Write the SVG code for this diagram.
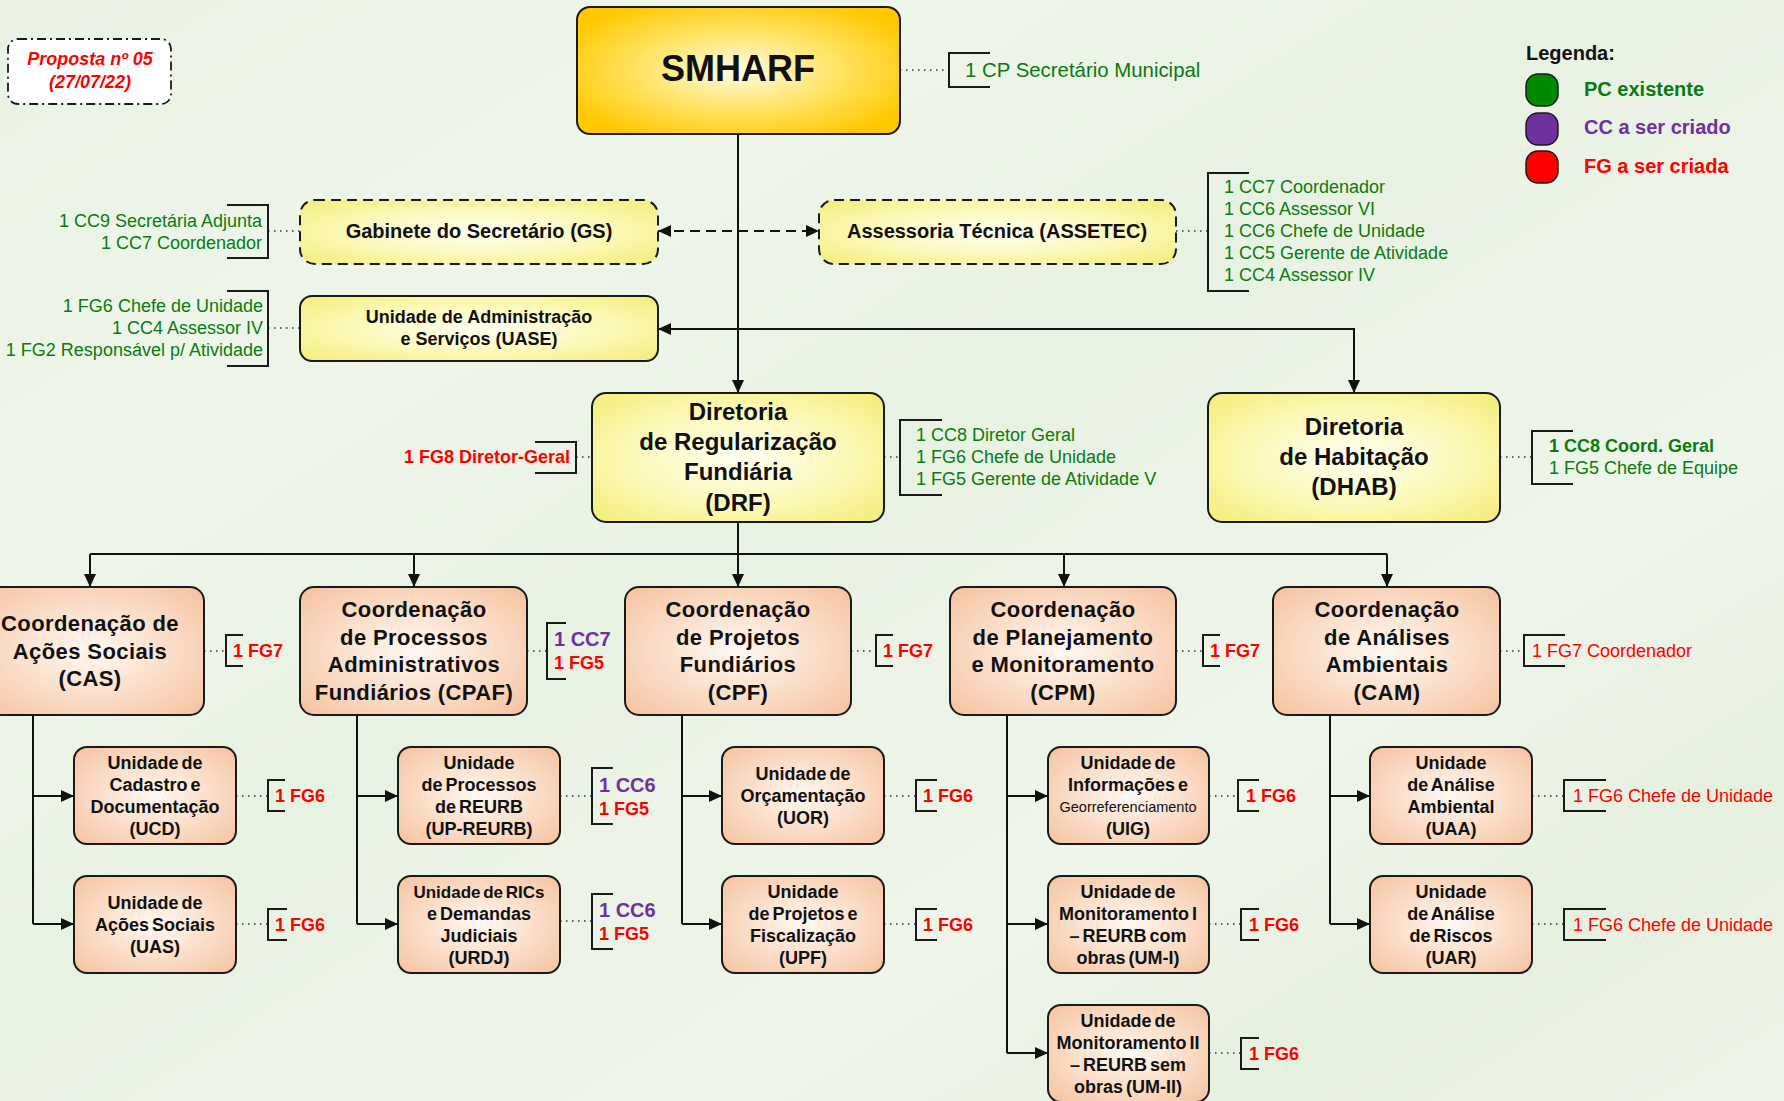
<svg xmlns="http://www.w3.org/2000/svg" width="1784" height="1101" viewBox="0 0 1784 1101">
<defs>
<linearGradient id="bg" x1="0" y1="0" x2="1" y2="1">
<stop offset="0" stop-color="#e9f2e3"/>
<stop offset="0.25" stop-color="#eef6ea"/>
<stop offset="0.45" stop-color="#e8f2e2"/>
<stop offset="0.7" stop-color="#eef5ea"/>
<stop offset="0.85" stop-color="#e6f0df"/>
<stop offset="1" stop-color="#edf4e8"/>
</linearGradient>
<radialGradient id="gSmh" cx="0.5" cy="0.5" r="0.6">
<stop offset="0" stop-color="#fffbe4"/>
<stop offset="0.55" stop-color="#ffe25c"/>
<stop offset="1" stop-color="#ffc800"/>
</radialGradient>
<radialGradient id="gYel" cx="0.5" cy="0.5" r="0.65">
<stop offset="0" stop-color="#fffff2"/>
<stop offset="0.6" stop-color="#fbf8b4"/>
<stop offset="1" stop-color="#f4ef80"/>
</radialGradient>
<radialGradient id="gPea" cx="0.5" cy="0.5" r="0.65">
<stop offset="0" stop-color="#fff8f3"/>
<stop offset="0.6" stop-color="#fadbc4"/>
<stop offset="1" stop-color="#f6c6a4"/>
</radialGradient>
<marker id="ar" markerUnits="userSpaceOnUse" markerWidth="14" markerHeight="12" refX="13" refY="6" orient="auto-start-reverse">
<path d="M0,0 L13,6 L0,12 z" fill="#111"/>
</marker>
<style>
text{font-family:"Liberation Sans",Arial,sans-serif;}
.box{stroke:#1a1a1a;stroke-width:2;}
.yel{fill:url(#gYel);}
.pea{fill:url(#gPea);}
.dash{stroke-dasharray:10 6;}
.bt{font-weight:bold;fill:#111;text-anchor:middle;}
.b20{font-size:20px;}
.b24{font-size:24px;}
.b22{font-size:22px;letter-spacing:0.4px;}
.b18{font-size:18px;}
.u18{font-size:18px;word-spacing:-2px;}
.con{fill:none;stroke:#111;stroke-width:2;}
.dot{fill:none;stroke:#333;stroke-width:1.3;stroke-dasharray:1.5 4.5;}
.brk{fill:none;stroke:#1a1a1a;stroke-width:2;}
.g{fill:#0b7a12;font-size:18px;}
.r{fill:#ff0000;font-size:18px;}
.rb{fill:#ff0000;font-size:18px;font-weight:bold;}
.pb{fill:#7030a0;font-size:20px;font-weight:bold;}
.end{text-anchor:end;}
</style>
</defs>
<rect width="1784" height="1101" fill="url(#bg)"/>

<g id="connectors">
<path class="con" d="M738,134 V393" marker-end="url(#ar)"/>
<path class="con" d="M658,329 H1354 V393" marker-start="url(#ar)" marker-end="url(#ar)"/>
<path class="con dash" d="M658,231 H819" marker-start="url(#ar)" marker-end="url(#ar)" stroke-dasharray="12 8"/>
<path class="con" d="M738,522 V554"/>
<path class="con" d="M90,554 H1387"/>
<path class="con" d="M90,554 V587" marker-end="url(#ar)"/>
<path class="con" d="M414,554 V587" marker-end="url(#ar)"/>
<path class="con" d="M738,554 V587" marker-end="url(#ar)"/>
<path class="con" d="M1064,554 V587" marker-end="url(#ar)"/>
<path class="con" d="M1387,554 V587" marker-end="url(#ar)"/>
<path class="con" d="M33,715 V924"/>
<path class="con" d="M33,796 H74" marker-end="url(#ar)"/>
<path class="con" d="M33,924 H74" marker-end="url(#ar)"/>
<path class="con" d="M357,715 V924"/>
<path class="con" d="M357,796 H398" marker-end="url(#ar)"/>
<path class="con" d="M357,924 H398" marker-end="url(#ar)"/>
<path class="con" d="M682,715 V924"/>
<path class="con" d="M682,796 H722" marker-end="url(#ar)"/>
<path class="con" d="M682,924 H722" marker-end="url(#ar)"/>
<path class="con" d="M1007,715 V1053"/>
<path class="con" d="M1007,796 H1048" marker-end="url(#ar)"/>
<path class="con" d="M1007,924 H1048" marker-end="url(#ar)"/>
<path class="con" d="M1007,1053 H1048" marker-end="url(#ar)"/>
<path class="con" d="M1330,715 V924"/>
<path class="con" d="M1330,796 H1370" marker-end="url(#ar)"/>
<path class="con" d="M1330,924 H1370" marker-end="url(#ar)"/>
<!-- dotted leaders -->
<path class="dot" d="M900,70 H948"/>
<path class="dot" d="M268,231 H300"/>
<path class="dot" d="M268,328 H300"/>
<path class="dot" d="M1176,231 H1208"/>
<path class="dot" d="M576,457 H592"/>
<path class="dot" d="M884,457 H900"/>
<path class="dot" d="M1500,457 H1532"/>
<path class="dot" d="M204,651 H226"/>
<path class="dot" d="M527,651 H547"/>
<path class="dot" d="M851,651 H876"/>
<path class="dot" d="M1176,651 H1203"/>
<path class="dot" d="M1500,651 H1524"/>
<path class="dot" d="M236,796 H268"/>
<path class="dot" d="M236,924 H268"/>
<path class="dot" d="M560,796 H592"/>
<path class="dot" d="M560,921 H592"/>
<path class="dot" d="M884,796 H916"/>
<path class="dot" d="M884,924 H916"/>
<path class="dot" d="M1209,796 H1238"/>
<path class="dot" d="M1209,924 H1241"/>
<path class="dot" d="M1209,1053 H1241"/>
<path class="dot" d="M1532,796 H1564"/>
<path class="dot" d="M1532,924 H1564"/>
</g>

<g id="proposta">
<rect x="8" y="39" width="163" height="65" rx="10" fill="#ffffff" stroke="#1a1a1a" stroke-width="1.8" stroke-dasharray="9 4 2 4"/>
<text x="90" y="65" text-anchor="middle" font-size="18" font-weight="bold" font-style="italic" fill="#ff0000">Proposta nº 05</text>
<text x="90" y="88" text-anchor="middle" font-size="18" font-weight="bold" font-style="italic" fill="#ff0000">(27/07/22)</text>
</g>

<g id="legenda">
<text x="1526" y="60" font-size="20" font-weight="bold" fill="#111">Legenda:</text>
<rect x="1526" y="74" width="32" height="32" rx="12" fill="#008a00" stroke="#1a1a1a" stroke-width="1.5"/>
<rect x="1526" y="113" width="32" height="32" rx="12" fill="#7030a0" stroke="#1a1a1a" stroke-width="1.5"/>
<rect x="1526" y="151" width="32" height="32" rx="12" fill="#ff0000" stroke="#1a1a1a" stroke-width="1.5"/>
<text x="1584" y="96" font-size="20" font-weight="bold" fill="#0b7a12">PC existente</text>
<text x="1584" y="134" font-size="20" font-weight="bold" fill="#7030a0">CC a ser criado</text>
<text x="1584" y="173" font-size="20" font-weight="bold" fill="#ff0000">FG a ser criada</text>
</g>

<g id="smharf">
<rect class="box" x="577" y="7" width="323" height="127" rx="13" fill="url(#gSmh)"/>
<text class="bt" x="738" y="81" font-size="36">SMHARF</text>
<path class="brk" d="M990,53 H949 V87 H990"/>
<text class="g" x="965" y="77" style="font-size:20.4px">1 CP Secretário Municipal</text>
</g>

<g id="gs">
<rect class="box yel dash" x="300" y="200" width="358" height="64" rx="15"/>
<text class="bt b20" x="479" y="238">Gabinete do Secretário (GS)</text>
<path class="brk" d="M227,205 H268 V258 H227"/>
<text class="g end" x="262" y="227">1 CC9 Secretária Adjunta</text>
<text class="g end" x="262" y="249">1 CC7 Coordenador</text>
</g>

<g id="assetec">
<rect class="box yel dash" x="819" y="200" width="357" height="64" rx="15"/>
<text class="bt b20" x="997" y="238">Assessoria Técnica (ASSETEC)</text>
<path class="brk" d="M1249,173 H1208 V291 H1249"/>
<text class="g" x="1224" y="193">1 CC7 Coordenador</text>
<text class="g" x="1224" y="215">1 CC6 Assessor VI</text>
<text class="g" x="1224" y="237">1 CC6 Chefe de Unidade</text>
<text class="g" x="1224" y="259">1 CC5 Gerente de Atividade</text>
<text class="g" x="1224" y="281">1 CC4 Assessor IV</text>
</g>

<g id="uase">
<rect class="box yel" x="300" y="296" width="358" height="65" rx="12"/>
<text class="bt b18" x="479" y="323">Unidade de Administração</text>
<text class="bt b18" x="479" y="345">e Serviços (UASE)</text>
<path class="brk" d="M227,291 H268 V366 H227"/>
<text class="g end" x="263" y="312">1 FG6 Chefe de Unidade</text>
<text class="g end" x="263" y="334">1 CC4 Assessor IV</text>
<text class="g end" x="263" y="356">1 FG2 Responsável p/ Atividade</text>
</g>

<g id="drf">
<rect class="box yel" x="592" y="393" width="292" height="129" rx="14"/>
<text class="bt b24" x="738" y="420">Diretoria</text>
<text class="bt b24" x="738" y="450">de Regularização</text>
<text class="bt b24" x="738" y="480">Fundiária</text>
<text class="bt b24" x="738" y="511">(DRF)</text>
<path class="brk" d="M535,442 H576 V473 H535"/>
<text class="rb end" x="570" y="463">1 FG8 Diretor-Geral</text>
<path class="brk" d="M942,420 H900 V495 H942"/>
<text class="g" x="916" y="441">1 CC8 Diretor Geral</text>
<text class="g" x="916" y="463">1 FG6 Chefe de Unidade</text>
<text class="g" x="916" y="485">1 FG5 Gerente de Atividade V</text>
</g>

<g id="dhab">
<rect class="box yel" x="1208" y="393" width="292" height="129" rx="14"/>
<text class="bt b24" x="1354" y="435">Diretoria</text>
<text class="bt b24" x="1354" y="465">de Habitação</text>
<text class="bt b24" x="1354" y="495">(DHAB)</text>
<path class="brk" d="M1573,431 H1532 V484 H1573"/>
<text class="g" x="1549" y="452" style="font-weight:bold">1 CC8 Coord. Geral</text>
<text class="g" x="1549" y="474">1 FG5 Chefe de Equipe</text>
</g>

<g id="cas">
<rect class="box pea" x="-23" y="587" width="227" height="128" rx="14"/>
<text class="bt b22" x="90" y="631">Coordenação de</text>
<text class="bt b22" x="90" y="659">Ações Sociais</text>
<text class="bt b22" x="90" y="686">(CAS)</text>
<path class="brk" d="M243,635 H226 V666 H243"/>
<text class="rb" x="233" y="657">1 FG7</text>
</g>

<g id="cpaf">
<rect class="box pea" x="300" y="587" width="227" height="128" rx="14"/>
<text class="bt b22" x="414" y="617">Coordenação</text>
<text class="bt b22" x="414" y="645">de Processos</text>
<text class="bt b22" x="414" y="672">Administrativos</text>
<text class="bt b22" x="414" y="700">Fundiários (CPAF)</text>
<path class="brk" d="M566,623 H547 V679 H566"/>
<text class="pb" x="554" y="646">1 CC7</text>
<text class="rb" x="554" y="669">1 FG5</text>
</g>

<g id="cpf">
<rect class="box pea" x="625" y="587" width="226" height="128" rx="14"/>
<text class="bt b22" x="738" y="617">Coordenação</text>
<text class="bt b22" x="738" y="645">de Projetos</text>
<text class="bt b22" x="738" y="672">Fundiários</text>
<text class="bt b22" x="738" y="700">(CPF)</text>
<path class="brk" d="M893,635 H876 V666 H893"/>
<text class="rb" x="883" y="657">1 FG7</text>
</g>

<g id="cpm">
<rect class="box pea" x="950" y="587" width="226" height="128" rx="14"/>
<text class="bt b22" x="1063" y="617">Coordenação</text>
<text class="bt b22" x="1063" y="645">de Planejamento</text>
<text class="bt b22" x="1063" y="672">e Monitoramento</text>
<text class="bt b22" x="1063" y="700">(CPM)</text>
<path class="brk" d="M1220,635 H1203 V666 H1220"/>
<text class="rb" x="1210" y="657">1 FG7</text>
</g>

<g id="cam">
<rect class="box pea" x="1273" y="587" width="227" height="128" rx="14"/>
<text class="bt b22" x="1387" y="617">Coordenação</text>
<text class="bt b22" x="1387" y="645">de Análises</text>
<text class="bt b22" x="1387" y="672">Ambientais</text>
<text class="bt b22" x="1387" y="700">(CAM)</text>
<path class="brk" d="M1565,635 H1524 V666 H1565"/>
<text class="r" x="1532" y="657">1 FG7 Coordenador</text>
</g>

<g id="ucd">
<rect class="box pea" x="74" y="747" width="162" height="97" rx="13"/>
<text class="bt u18" x="155" y="769">Unidade de</text>
<text class="bt u18" x="155" y="791">Cadastro e</text>
<text class="bt u18" x="155" y="813">Documentação</text>
<text class="bt u18" x="155" y="835">(UCD)</text>
<path class="brk" d="M285,780 H268 V811 H285"/>
<text class="rb" x="275" y="802">1 FG6</text>
</g>

<g id="uas">
<rect class="box pea" x="74" y="876" width="162" height="97" rx="13"/>
<text class="bt u18" x="155" y="909">Unidade de</text>
<text class="bt u18" x="155" y="931">Ações Sociais</text>
<text class="bt u18" x="155" y="953">(UAS)</text>
<path class="brk" d="M287,909 H268 V940 H287"/>
<text class="rb" x="275" y="931">1 FG6</text>
</g>

<g id="up-reurb">
<rect class="box pea" x="398" y="747" width="162" height="97" rx="13"/>
<text class="bt u18" x="479" y="769">Unidade</text>
<text class="bt u18" x="479" y="791">de Processos</text>
<text class="bt u18" x="479" y="813">de REURB</text>
<text class="bt u18" x="479" y="835">(UP-REURB)</text>
<path class="brk" d="M613,768 H592 V824 H613"/>
<text class="pb" x="599" y="792">1 CC6</text>
<text class="rb" x="599" y="815">1 FG5</text>
</g>

<g id="urdj">
<rect class="box pea" x="398" y="876" width="162" height="97" rx="13"/>
<text class="bt u18" x="479" y="898" style="font-size:17px">Unidade de RICs</text>
<text class="bt u18" x="479" y="920">e Demandas</text>
<text class="bt u18" x="479" y="942">Judiciais</text>
<text class="bt u18" x="479" y="964">(URDJ)</text>
<path class="brk" d="M613,894 H592 V949 H613"/>
<text class="pb" x="599" y="917">1 CC6</text>
<text class="rb" x="599" y="940">1 FG5</text>
</g>

<g id="uor">
<rect class="box pea" x="722" y="747" width="162" height="97" rx="13"/>
<text class="bt u18" x="803" y="780">Unidade de</text>
<text class="bt u18" x="803" y="802">Orçamentação</text>
<text class="bt u18" x="803" y="824">(UOR)</text>
<path class="brk" d="M937,780 H916 V811 H937"/>
<text class="rb" x="923" y="802">1 FG6</text>
</g>

<g id="upf">
<rect class="box pea" x="722" y="876" width="162" height="97" rx="13"/>
<text class="bt u18" x="803" y="898">Unidade</text>
<text class="bt u18" x="803" y="920">de Projetos e</text>
<text class="bt u18" x="803" y="942">Fiscalização</text>
<text class="bt u18" x="803" y="964">(UPF)</text>
<path class="brk" d="M937,909 H916 V940 H937"/>
<text class="rb" x="923" y="931">1 FG6</text>
</g>

<g id="uig">
<rect class="box pea" x="1048" y="747" width="161" height="97" rx="13"/>
<text class="bt u18" x="1128" y="769">Unidade de</text>
<text class="bt u18" x="1128" y="791">Informações e</text>
<text x="1128" y="812" text-anchor="middle" font-size="14.5" fill="#111">Georreferenciamento</text>
<text class="bt u18" x="1128" y="835">(UIG)</text>
<path class="brk" d="M1259,780 H1238 V811 H1259"/>
<text class="rb" x="1246" y="802">1 FG6</text>
</g>

<g id="um-i">
<rect class="box pea" x="1048" y="876" width="161" height="97" rx="13"/>
<text class="bt u18" x="1128" y="898">Unidade de</text>
<text class="bt u18" x="1128" y="920">Monitoramento I</text>
<text class="bt u18" x="1128" y="942">– REURB com</text>
<text class="bt u18" x="1128" y="964">obras (UM-I)</text>
<path class="brk" d="M1259,909 H1241 V940 H1259"/>
<text class="rb" x="1249" y="931">1 FG6</text>
</g>

<g id="um-ii">
<rect class="box pea" x="1048" y="1005" width="161" height="97" rx="13"/>
<text class="bt u18" x="1128" y="1027">Unidade de</text>
<text class="bt u18" x="1128" y="1049">Monitoramento II</text>
<text class="bt u18" x="1128" y="1071">– REURB sem</text>
<text class="bt u18" x="1128" y="1093">obras (UM-II)</text>
<path class="brk" d="M1259,1038 H1241 V1069 H1259"/>
<text class="rb" x="1249" y="1060">1 FG6</text>
</g>

<g id="uaa">
<rect class="box pea" x="1370" y="747" width="162" height="97" rx="13"/>
<text class="bt u18" x="1451" y="769">Unidade</text>
<text class="bt u18" x="1451" y="791">de Análise</text>
<text class="bt u18" x="1451" y="813">Ambiental</text>
<text class="bt u18" x="1451" y="835">(UAA)</text>
<path class="brk" d="M1606,780 H1564 V811 H1606"/>
<text class="r" x="1573" y="802">1 FG6 Chefe de Unidade</text>
</g>

<g id="uar">
<rect class="box pea" x="1370" y="876" width="162" height="97" rx="13"/>
<text class="bt u18" x="1451" y="898">Unidade</text>
<text class="bt u18" x="1451" y="920">de Análise</text>
<text class="bt u18" x="1451" y="942">de Riscos</text>
<text class="bt u18" x="1451" y="964">(UAR)</text>
<path class="brk" d="M1606,909 H1564 V940 H1606"/>
<text class="r" x="1573" y="931">1 FG6 Chefe de Unidade</text>
</g>
</svg>
